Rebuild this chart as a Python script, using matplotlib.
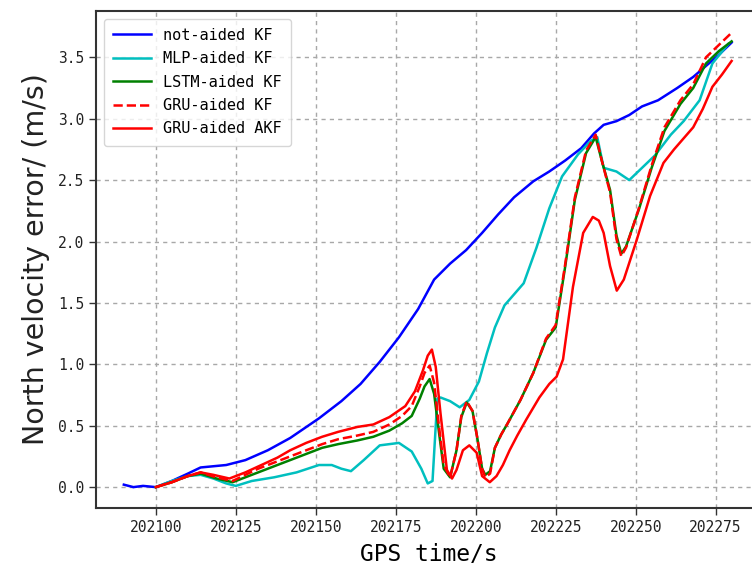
import matplotlib
matplotlib.use("Agg")
import matplotlib.pyplot as plt

# not-aided KF
t_kf = [202090, 202093, 202096, 202100, 202105, 202110, 202114, 202118, 202122,
        202128, 202135, 202142, 202151, 202158, 202164, 202170, 202176, 202182,
        202187, 202192, 202197, 202202, 202207, 202212, 202218, 202223, 202228,
        202233, 202237, 202240, 202244, 202248, 202252, 202257, 202263, 202268,
        202272, 202276, 202280]
v_kf = [0.02, 0.0, 0.01, 0.0, 0.05, 0.11, 0.16, 0.17, 0.18,
        0.22, 0.30, 0.40, 0.56, 0.70, 0.84, 1.02, 1.22, 1.45,
        1.69, 1.82, 1.93, 2.07, 2.22, 2.36, 2.49, 2.57, 2.66,
        2.76, 2.88, 2.95, 2.98, 3.03, 3.10, 3.15, 3.25, 3.34,
        3.43, 3.52, 3.62]

# MLP-aided KF
t_mlp = [202100, 202105, 202110, 202114, 202118, 202122, 202125, 202130, 202137,
         202144, 202151, 202155, 202158, 202161, 202165, 202170, 202176, 202180,
         202183, 202185, 202186.5, 202188, 202189, 202192, 202195, 202198, 202201,
         202203.5, 202206, 202209, 202212, 202215, 202219, 202223, 202227, 202232,
         202236, 202238, 202240, 202244, 202248, 202252, 202256, 202261, 202265,
         202270, 202274, 202279]
v_mlp = [0.0, 0.05, 0.09, 0.10, 0.07, 0.03, 0.01, 0.05, 0.08,
         0.12, 0.18, 0.18, 0.15, 0.13, 0.22, 0.34, 0.36, 0.29,
         0.15, 0.03, 0.05, 0.72, 0.73, 0.70, 0.65, 0.71, 0.86,
         1.09, 1.30, 1.48, 1.57, 1.66, 1.95, 2.27, 2.53, 2.71,
         2.82, 2.85, 2.60, 2.57, 2.50, 2.60, 2.70, 2.87, 2.98,
         3.15, 3.45, 3.61]

# LSTM-aided KF and GRU-aided KF share the time base
t_rnn = [202100, 202105, 202110, 202114, 202119, 202124, 202128, 202132, 202137,
         202142, 202147, 202152, 202157, 202163, 202168, 202173, 202177, 202180,
         202182.5, 202184, 202185.6, 202187, 202188.5, 202190, 202192, 202194,
         202195.5, 202197.2, 202199, 202200.5, 202202, 202203, 202204.5, 202206,
         202208, 202210, 202214, 202218, 202222, 202225, 202228, 202231, 202234.5,
         202237.5, 202239.5, 202242, 202244, 202245.5, 202247, 202251, 202255,
         202259, 202264, 202268, 202272, 202276, 202280]
v_lstm = [0.0, 0.04, 0.09, 0.11, 0.07, 0.04, 0.08, 0.12, 0.17,
          0.22, 0.27, 0.32, 0.35, 0.38, 0.41, 0.46, 0.52, 0.58,
          0.72, 0.82, 0.88, 0.76, 0.45, 0.15, 0.08, 0.30,
          0.57, 0.69, 0.62, 0.40, 0.15, 0.10, 0.13, 0.32,
          0.43, 0.52, 0.71, 0.93, 1.20, 1.30, 1.80, 2.34, 2.72,
          2.85, 2.65, 2.42, 2.05, 1.90, 1.96, 2.26, 2.60,
          2.90, 3.12, 3.25, 3.45, 3.55, 3.63]
v_gru = [0.0, 0.04, 0.09, 0.12, 0.08, 0.05, 0.10, 0.15, 0.20,
         0.25, 0.30, 0.35, 0.39, 0.42, 0.45, 0.51, 0.58, 0.66,
         0.82, 0.93, 0.99, 0.85, 0.50, 0.18, 0.08, 0.30,
         0.58, 0.70, 0.62, 0.40, 0.15, 0.08, 0.11, 0.32,
         0.43, 0.52, 0.71, 0.93, 1.21, 1.32, 1.82, 2.36, 2.74,
         2.87, 2.65, 2.40, 2.02, 1.88, 1.95, 2.27, 2.62,
         2.93, 3.15, 3.28, 3.50, 3.60, 3.70]

# GRU-aided AKF
t_akf = [202100, 202105, 202110, 202114, 202118, 202123, 202128, 202133, 202138,
         202142, 202147, 202152, 202157, 202163, 202168, 202173, 202178, 202181,
         202183.5, 202185, 202186.3, 202187.5, 202189, 202191, 202192.6, 202194,
         202196, 202198, 202200.3, 202202, 202204.4, 202206.5, 202208.5, 202210.6,
         202213, 202215.8, 202219.9, 202223, 202225.3, 202227.3, 202230.4,
         202233.6, 202236.6, 202238.5, 202240, 202242, 202244.1, 202246.3,
         202250.3, 202254.5, 202258.7, 202262, 202265, 202268, 202271, 202274,
         202277, 202280]
v_akf = [0.0, 0.04, 0.09, 0.12, 0.10, 0.07, 0.12, 0.18, 0.24,
         0.30, 0.36, 0.41, 0.45, 0.49, 0.51, 0.57, 0.66, 0.78,
         0.95, 1.07, 1.12, 0.98, 0.60, 0.14, 0.07, 0.14,
         0.30, 0.34, 0.28, 0.09, 0.04, 0.09, 0.18, 0.30,
         0.42, 0.55, 0.73, 0.84, 0.90, 1.04, 1.63,
         2.07, 2.20, 2.17, 2.07, 1.80, 1.60, 1.69,
         2.01, 2.37, 2.64, 2.75, 2.84, 2.93, 3.08, 3.26,
         3.36, 3.47]

mono = "DejaVu Sans Mono"

fig = plt.figure(figsize=(7.52, 5.72), dpi=100)
ax = fig.add_axes([96 / 752, 64 / 572, 666 / 752, 497 / 572])

lw = 1.8
ax.plot(t_kf, v_kf, color="b", lw=lw, label="not-aided KF")
ax.plot(t_mlp, v_mlp, color="c", lw=lw, label="MLP-aided KF")
ax.plot(t_rnn, v_lstm, color="g", lw=lw, label="LSTM-aided KF")
ax.plot(t_rnn, v_gru, color="r", ls="--", lw=lw, label="GRU-aided KF")
ax.plot(t_akf, v_akf, color="r", lw=lw, label="GRU-aided AKF")

ax.set_xlim(202081.3, 202289.5)
ax.set_ylim(-0.17, 3.877)
ax.set_xticks(range(202100, 202276, 25))
ax.set_yticks([0.0, 0.5, 1.0, 1.5, 2.0, 2.5, 3.0, 3.5])
ax.set_yticklabels(["%.1f" % v for v in ax.get_yticks()])

ax.grid(True, ls=(0, (3, 3)), color="#a8a8a8", lw=1.0)
for s in ax.spines.values():
    s.set_linewidth(1.5)
    s.set_color("#333333")
ax.tick_params(labelsize=10.5, length=5, width=1.0, color="#333333")
for lab in ax.get_xticklabels() + ax.get_yticklabels():
    lab.set_fontfamily(mono)
    lab.set_color("#222222")

ax.set_xlabel("GPS time/s", fontsize=16.5, family=mono, labelpad=6)
ax.set_ylabel("North velocity error/ (m/s)", fontsize=20.5, labelpad=6,
              color="#222222")

ax.legend(loc="upper left", prop={"family": mono, "size": 11},
          handlelength=2.5, labelspacing=0.55, borderpad=0.6,
          framealpha=0.8, edgecolor="#cccccc", fancybox=True)

fig.savefig("out.png", dpi=100)
